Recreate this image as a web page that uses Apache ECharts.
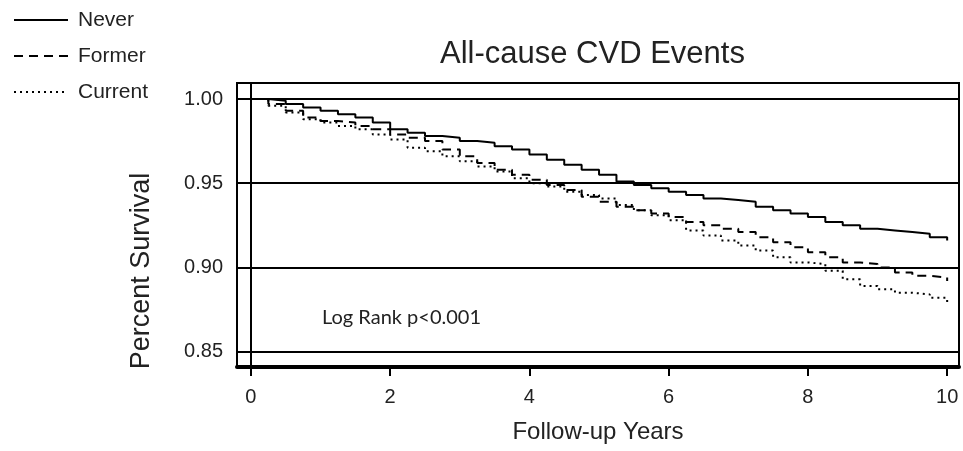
<!DOCTYPE html>
<html>
<head>
<meta charset="utf-8">
<script src="https://cdn.jsdelivr.net/npm/echarts@6/dist/echarts.min.js"></script>
<style>
html,body{margin:0;padding:0;background:#fff;}
#chart{width:963px;height:451px;}
</style>
</head>
<body>
<div id="chart"></div>
<script>
// Follow-up years (shared time grid)
const years = [0,0.25,0.5,0.75,1,1.25,1.5,1.75,2,2.25,2.5,2.75,3,3.25,3.5,3.75,4,4.25,4.5,4.75,5,5.25,5.5,5.75,6,6.25,6.5,6.75,7,7.25,7.5,7.75,8,8.25,8.5,8.75,9,9.25,9.5,9.75,10];
const neverSurv = [1.000,0.999,0.997,0.995,0.993,0.991,0.989,0.986,0.982,0.980,0.978,0.977,0.975,0.974,0.972,0.970,0.967,0.964,0.961,0.958,0.955,0.951,0.949,0.947,0.945,0.943,0.941,0.940,0.939,0.936,0.934,0.932,0.930,0.927,0.925,0.923,0.922,0.921,0.920,0.918,0.916];
const formerSurv = [1.000,0.997,0.993,0.989,0.987,0.986,0.984,0.982,0.979,0.977,0.975,0.970,0.966,0.962,0.958,0.955,0.952,0.949,0.946,0.942,0.939,0.936,0.934,0.932,0.930,0.927,0.925,0.923,0.921,0.918,0.915,0.912,0.909,0.906,0.903,0.902,0.900,0.897,0.895,0.894,0.892];
const currentSurv = [1.000,0.996,0.992,0.988,0.986,0.984,0.982,0.979,0.976,0.971,0.969,0.966,0.963,0.960,0.957,0.953,0.950,0.948,0.945,0.943,0.941,0.937,0.934,0.931,0.928,0.922,0.919,0.916,0.913,0.910,0.906,0.903,0.902,0.898,0.893,0.889,0.887,0.885,0.884,0.882,0.879];
const xTicks = [0,2,4,6,8,10];
const yTicks = [0.85,0.90,0.95,1.00];
const seriesNames = ['Never','Former','Current'];

const FONT = '"Liberation Sans", Arial, sans-serif';
const TXT = '#222';

function pairs(vals){ return years.map((t,i)=>[t, vals[i]]); }

const chart = echarts.init(document.getElementById('chart'), null, {renderer:'canvas'});
chart.setOption({
  animation: false,
  backgroundColor: '#fff',
  title: {
    text: 'All-cause CVD Events',
    left: 440, top: 39, padding: 0,
    textStyle: {fontSize: 31, fontWeight: 'normal', color: TXT, fontFamily: FONT}
  },
  legend: {
    orient: 'vertical', left: 8, top: 3,
    itemWidth: 54, itemHeight: 14, itemGap: 12,
    data: seriesNames,
    itemStyle: {color: 'rgba(0,0,0,0)', borderWidth: 0, opacity: 0},
    textStyle: {fontSize: 21, lineHeight: 24, color: TXT, fontFamily: FONT, padding: [0,0,0,5]}
  },
  grid: {
    left: 237, top: 83, width: 722, height: 284,
    show: true, borderColor: '#000', borderWidth: 2, containLabel: false
  },
  xAxis: {
    type: 'value', min: -0.2, max: 10.17,
    name: 'Follow-up Years', nameLocation: 'middle', nameGap: 53,
    nameTextStyle: {fontSize: 24, color: TXT, fontFamily: FONT},
    axisLine: {show: true, lineStyle: {color: '#000', width: 4}},
    axisTick: {show: true, customValues: xTicks, length: 9, lineStyle: {color: '#000', width: 2}},
    axisLabel: {customValues: xTicks, fontSize: 20, margin: 20, color: TXT, fontFamily: FONT},
    splitLine: {show: false}
  },
  yAxis: {
    type: 'value', min: 0.8409, max: 1.0095,
    name: 'Percent Survival', nameLocation: 'middle', nameGap: 82,
    nameTextStyle: {fontSize: 27, color: TXT, fontFamily: FONT, padding: [0, 92, 0, 0]},
    axisLine: {show: true, lineStyle: {color: '#000', width: 2}},
    axisTick: {show: true, customValues: yTicks, length: 9, lineStyle: {color: '#000', width: 2}},
    axisLabel: {customValues: yTicks, fontSize: 20, margin: 14, color: TXT, fontFamily: FONT,
      formatter: v => v.toFixed(2)},
    splitLine: {show: false}
  },
  graphic: [{
    type: 'text', left: 322, top: 308,
    style: {text: 'Log Rank p<0.001', fontSize: 20, fill: TXT, fontFamily: 'Lato, "Open Sans", sans-serif'}
  }],
  series: [
    {
      name: 'Never', type: 'line', step: 'end', symbol: 'none', data: pairs(neverSurv),
      lineStyle: {color: '#000', width: 2, type: 'solid'}, itemStyle: {color: '#000'},
      markLine: {
        silent: true, symbol: 'none', label: {show: false},
        lineStyle: {color: '#000', width: 2, type: 'solid'},
        data: yTicks.map(v => ({yAxis: v}))
      }
    },
    {
      name: 'Former', type: 'line', step: 'end', symbol: 'none', data: pairs(formerSurv),
      lineStyle: {color: '#000', width: 2, type: [9, 6]}, itemStyle: {color: '#000'}
    },
    {
      name: 'Current', type: 'line', step: 'end', symbol: 'none', data: pairs(currentSurv),
      lineStyle: {color: '#000', width: 2, type: [2, 4]}, itemStyle: {color: '#000'}
    }
  ]
});
</script>
</body>
</html>
